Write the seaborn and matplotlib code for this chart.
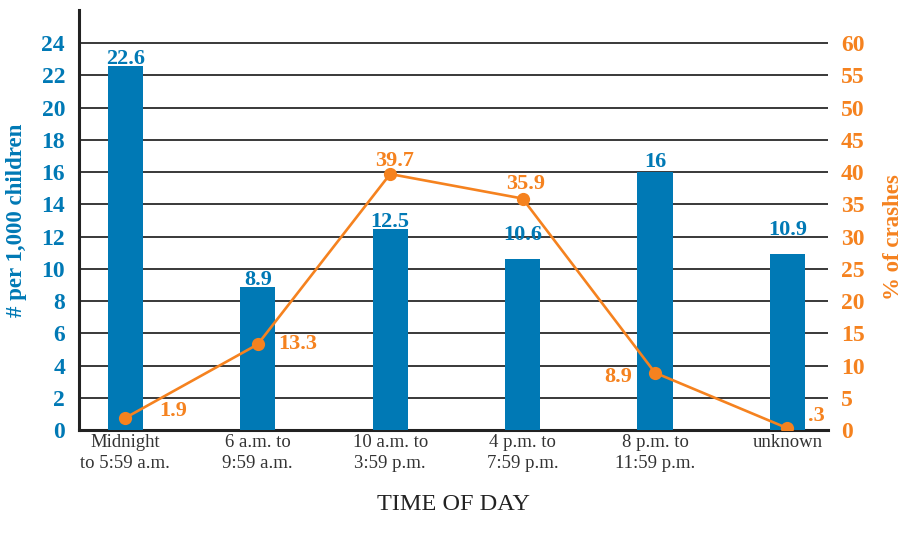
import numpy as np
import pandas as pd
import matplotlib
matplotlib.use("Agg")
import matplotlib.pyplot as plt
import seaborn as sns

# Data
time_slots = ["Midnight\nto 5:59 a.m.", "6 a.m. to\n9:59 a.m.", "10 a.m. to\n3:59 p.m.",
              "4 p.m. to\n7:59 p.m.", "8 p.m. to\n11:59 p.m.", "unknown"]
per_1000_children = [22.6, 8.9, 12.5, 10.6, 16, 10.9]
pct_crashes = [1.9, 13.3, 39.7, 35.9, 8.9, 0.3]
pct_labels = ["1.9", "13.3", "39.7", "35.9", "8.9", ".3"]
left_ticks = list(range(0, 25, 2))
right_ticks = list(range(0, 61, 5))

BLUE = "#0079B5"
ORANGE = "#F5821F"
SERIF = ["Liberation Serif", "DejaVu Serif"]

sns.set_theme(style="white")
plt.rcParams["font.family"] = SERIF

df = pd.DataFrame({"slot": time_slots, "rate": per_1000_children,
                   "pct": pct_crashes, "pos": np.arange(len(time_slots))})

fig = plt.figure(figsize=(9.14, 5.35), dpi=100)
ax = fig.add_axes([0.0864, 0.196, 0.820, 0.785])

sns.barplot(data=df, x="slot", y="rate", color=BLUE, saturation=1, width=0.265,
            linewidth=0, edgecolor="none", ax=ax, zorder=3)
ax.set_xlim(-0.35, 5.31)
ax.set_ylim(0, 26.05)
ax.set_yticks(left_ticks)
ax.set_yticklabels([str(t) for t in left_ticks])
for t in left_ticks[1:]:
    ax.axhline(t, color="#2a2a2a", lw=1.3, zorder=1)

for lbl in ax.get_yticklabels():
    lbl.set_color(BLUE)
    lbl.set_fontweight("bold")
    lbl.set_fontsize(17)
for lbl in ax.get_xticklabels():
    lbl.set_color("#333333")
    lbl.set_fontsize(13.5)
    lbl.set_linespacing(1.3)
ax.tick_params(axis="both", length=0)
ax.tick_params(axis="y", pad=10)
ax.tick_params(axis="x", pad=3)

for side in ["top", "right"]:
    ax.spines[side].set_visible(False)
for side in ["left", "bottom"]:
    ax.spines[side].set_color("#222222")
    ax.spines[side].set_linewidth(2.2)

ax.set_ylabel("# per 1,000 children", color=BLUE, fontweight="bold", fontsize=16.5)
ax.yaxis.set_label_coords(-0.069, 0.5)
ax.set_xlabel("TIME OF DAY", color="#222222", fontsize=17.5, labelpad=16)

# Value labels above the bars (pixel lift of the baseline per label)
bar_lift = [2, 2, 2, 19, 5, 19]
for i, v in enumerate(per_1000_children):
    ax.annotate(f"{v:g}", (i, v), xytext=(0, bar_lift[i]), textcoords="offset pixels",
                ha="center", va="baseline", color=BLUE, fontweight="bold",
                fontsize=16, zorder=5)

# Secondary axis for share of crashes
ax2 = ax.twinx()
sns.lineplot(data=df, x="pos", y="pct", color=ORANGE, lw=1.9, marker="o",
             markersize=9.5, markeredgewidth=0, ax=ax2, zorder=4)
ax2.set_ylim(0, 65.1)
ax2.set_yticks(right_ticks)
ax2.set_yticklabels([str(t) for t in right_ticks])
for lbl in ax2.get_yticklabels():
    lbl.set_color(ORANGE)
    lbl.set_fontweight("bold")
    lbl.set_fontsize(17)
ax2.tick_params(axis="y", length=0, pad=9)
ax2.set_xlabel("")
ax2.set_ylabel("% of crashes", color=ORANGE, fontweight="bold", fontsize=16.5)
ax2.yaxis.set_label_coords(1.073, 0.46)
for side in ["top", "right", "left", "bottom"]:
    ax2.spines[side].set_visible(False)
ax2.grid(False)

# Point labels: (dx, dy) in pixels and horizontal alignment
pt_offsets = [(48, 7, "center"), (21, 0, "left"), (4, 13, "center"),
              (3, 15, "center"), (-23, -4, "right"), (21, 12, "left")]
for i, (v, s) in enumerate(zip(pct_crashes, pct_labels)):
    dx, dy, ha = pt_offsets[i]
    ax2.annotate(s, (i, v), xytext=(dx, dy), textcoords="offset pixels",
                 ha=ha, va="center", color=ORANGE, fontweight="bold",
                 fontsize=16, zorder=6)

fig.savefig("out.png", dpi=100)
